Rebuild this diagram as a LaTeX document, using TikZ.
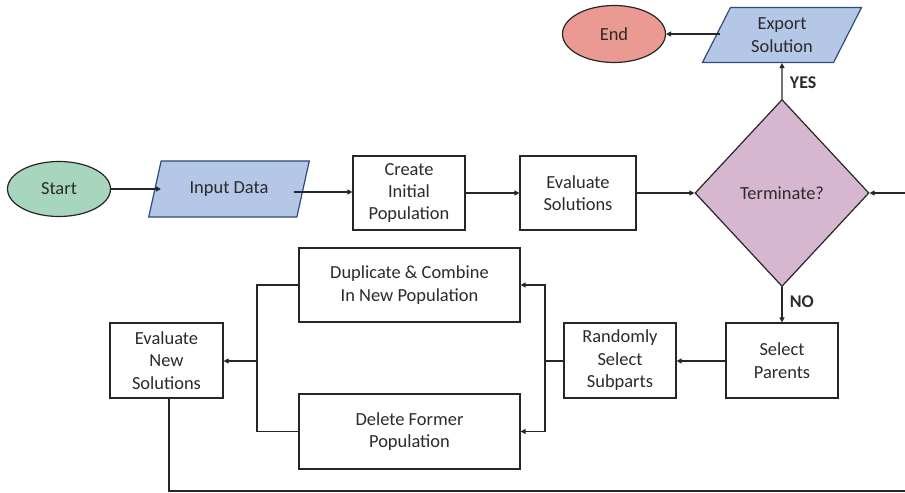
\documentclass[tikz,border=0pt]{standalone}
\usepackage{fontspec}
\setmainfont{Carlito}
\usetikzlibrary{shapes.geometric,arrows.meta}
\definecolor{txt}{HTML}{2B2B2B}
\definecolor{ln}{HTML}{262626}
\definecolor{startc}{HTML}{A8D5BE}
\definecolor{endc}{HTML}{EA9A92}
\definecolor{ioc}{HTML}{B4C7E7}
\definecolor{iob}{HTML}{2F4A7A}
\definecolor{decc}{HTML}{D7B7CF}
\tikzset{
  base/.style={font=\fontsize{18.5}{22.5}\selectfont, text=txt, align=center, line width=1.2bp},
  term/.style={base, ellipse, draw=ln, inner sep=0pt},
  io/.style={base, trapezium, trapezium left angle=64, trapezium right angle=116, trapezium stretches=true, draw=iob, fill=ioc, inner sep=0pt},
  procbox/.style={base, rectangle, draw=ln, fill=white, inner sep=0pt},
  decision/.style={base, diamond, draw=ln, fill=decc, inner sep=0pt},
  conn/.style={draw=ln, line width=1.2bp},
  arr/.style={conn, -{Triangle[length=5bp,width=5bp]}},
  lab/.style={font=\fontsize{18}{21}\selectfont\bfseries, text=txt}
}
\begin{document}
\begin{tikzpicture}[x=1bp,y=-1bp]
\useasboundingbox (0,0) rectangle (905,493);
\clip (0,0) rectangle (905,493);
\node[term, fill=startc, minimum width=103bp, minimum height=55bp] (start) at (59,189) {Start};
\node[io, minimum width=162bp, minimum height=56bp] (input) at (229,189) {Input Data};
\node[procbox, minimum width=112bp, minimum height=74bp] (create) at (409,193) {Create\\Initial\\Population};
\node[procbox, minimum width=116bp, minimum height=74bp] (eval) at (578,193) {Evaluate\\Solutions};
\node[decision, minimum width=174bp, minimum height=187bp] (term) at (782,193) {Terminate?};
\node[io, minimum width=160bp, minimum height=55bp] (export) at (782,35) {Export\\Solution};
\node[term, fill=endc, minimum width=103bp, minimum height=57bp] (end) at (614,34) {End};
\node[procbox, minimum width=112bp, minimum height=75bp] (parents) at (782,360.5) {Select\\Parents};
\node[procbox, minimum width=112bp, minimum height=75bp] (random) at (620,360.5) {Randomly\\Select\\Subparts};
\node[procbox, minimum width=221bp, minimum height=74bp] (dup) at (409.5,285) {Duplicate \& Combine\\In New Population};
\node[procbox, minimum width=221bp, minimum height=75bp] (del) at (409.5,431.5) {Delete Former\\Population};
\node[procbox, minimum width=113bp, minimum height=75bp] (evalnew) at (166.5,360.5) {Evaluate\\New\\Solutions};
\coordinate (jr) at (545,361);
\coordinate (jl) at (257,361);
\coordinate (farr) at (920,193);
\coordinate (inpin) at (161,189);
\coordinate (inpout) at (294,192);
\coordinate (expout) at (720,34);

\draw[arr] (start.east) -- (inpin);
\draw[arr] (inpout) -- (create.west |- inpout);
\draw[arr] (create.east) -- (eval.west);
\draw[arr] (eval.east) -- (term.west);
\draw[arr] (term.north) -- node[lab, right=4bp, pos=0.45] {YES} (export.south);
\draw[arr] (expout) -- (end.east);
\draw[arr] (term.south) -- node[lab, right=4bp, pos=0.4] {NO} (parents.north);
\draw[arr] (parents.west |- 0,361) -- (random.east |- 0,361);
\draw[conn] (random.west |- 0,361) -- (jr);
\draw[arr] (jr) |- (dup.east);
\draw[arr] (jr) |- (del.east);
\draw[conn] (dup.west) -| (jl);
\draw[conn] (del.west) -| (jl);
\draw[arr] (jl) -- (evalnew.east |- jl);
\draw[arr] (evalnew.south -| 169,0) |- (920,491) -- (farr) -- (term.east);
\end{tikzpicture}
\end{document}
